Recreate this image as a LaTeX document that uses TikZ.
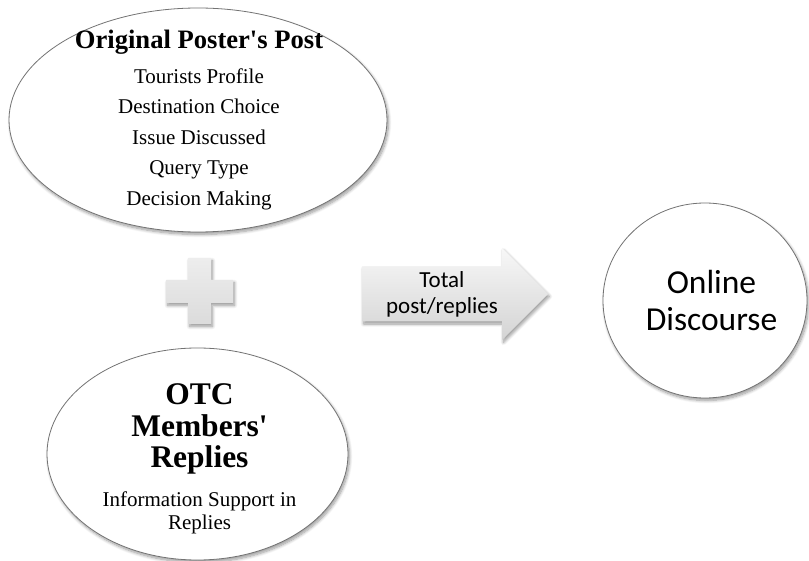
\documentclass[tikz,border=0pt]{standalone}
\usepackage{fontspec}
\setmainfont{Liberation Serif}[Ligatures=TeXOff]
\newfontfamily\calibrifont{Carlito}
\usetikzlibrary{shapes.geometric,shadows.blur}

\begin{document}
\begin{tikzpicture}[x=1pt,y=-1pt,
  softshadow/.style={blur shadow={shadow xshift=1.5pt, shadow yshift=-2.5pt,
      shadow blur radius=3pt, shadow blur steps=8, shadow opacity=40}},
  bubble/.style={ellipse, draw=black!55, line width=0.8pt, fill=white,
      inner sep=0pt, softshadow},
  bigtitle/.style={font=\bfseries\fontsize{26.6}{30}\selectfont, inner sep=0pt, anchor=base},
  otctitle/.style={font=\bfseries\fontsize{31.5}{31}\selectfont, inner sep=0pt, anchor=base},
  item/.style={font=\fontsize{21}{23}\selectfont, inner sep=0pt, anchor=base},
  arrowtext/.style={font=\calibrifont\fontsize{23}{26}\selectfont, inner sep=0pt, anchor=base},
  circletext/.style={font=\calibrifont\fontsize{33.5}{37}\selectfont, inner sep=0pt, anchor=base},
  greyshape/.style={draw=none, softshadow},
]
\useasboundingbox (0,0) rectangle (809,561);

% original poster's post
\node[bubble, minimum width=378pt, minimum height=224pt] (post) at (198,120) {};
\node[bigtitle] (postTitle) at (199,49) {Original Poster's Post};
\node[item] (profile)  at (199,83.5)  {Tourists Profile};
\node[item] (choice)   at (199,114)   {Destination Choice};
\node[item] (issue)    at (199,144.5) {Issue Discussed};
\node[item] (query)    at (199,175)   {Query Type};
\node[item] (decision) at (199,205.5) {Decision Making};

% plus sign
\path[greyshape, top color=black!7, bottom color=black!14]
  (188,258) -- (211,258) -- (211,280) -- (233,280) -- (233,303) -- (211,303)
  -- (211,324) -- (188,324) -- (188,303) -- (166,303) -- (166,280) -- (188,280) -- cycle;

% members' replies
\node[bubble, minimum width=301pt, minimum height=212pt] (replies) at (197.5,454) {};
\node[otctitle] (otc)     at (199.5,405) {OTC};
\node[otctitle] (members) at (199.5,436) {Members'};
\node[otctitle] (repl)    at (199.5,467) {Replies};
\node[item] (info)  at (199.5,506.5) {Information Support in};
\node[item] (info2) at (199.5,529)   {Replies};

% block arrow
\coordinate (a1) at (362,266.5);
\coordinate (a2) at (502,266.5);
\coordinate (a3) at (502,248);
\coordinate (tip) at (548,294);
\coordinate (a4) at (502,340);
\coordinate (a5) at (502,321.5);
\coordinate (a6) at (362,321.5);
\path[greyshape, top color=black!3, bottom color=black!17]
  (a1) -- (a2) -- (a3) -- (tip) -- (a4) -- (a5) -- (a6) -- cycle;
\node[arrowtext] (total) at (442,287.7) {Total};
\node[arrowtext] (postreplies) at (442,314) {post/replies};

% online discourse
\node[bubble, minimum width=204pt, minimum height=195pt] (discourse) at (705,300.5) {};
\node[circletext] (online) at (711.5,294) {Online};
\node[circletext] (disc)   at (711.5,330.7) {Discourse};
\end{tikzpicture}
\end{document}
